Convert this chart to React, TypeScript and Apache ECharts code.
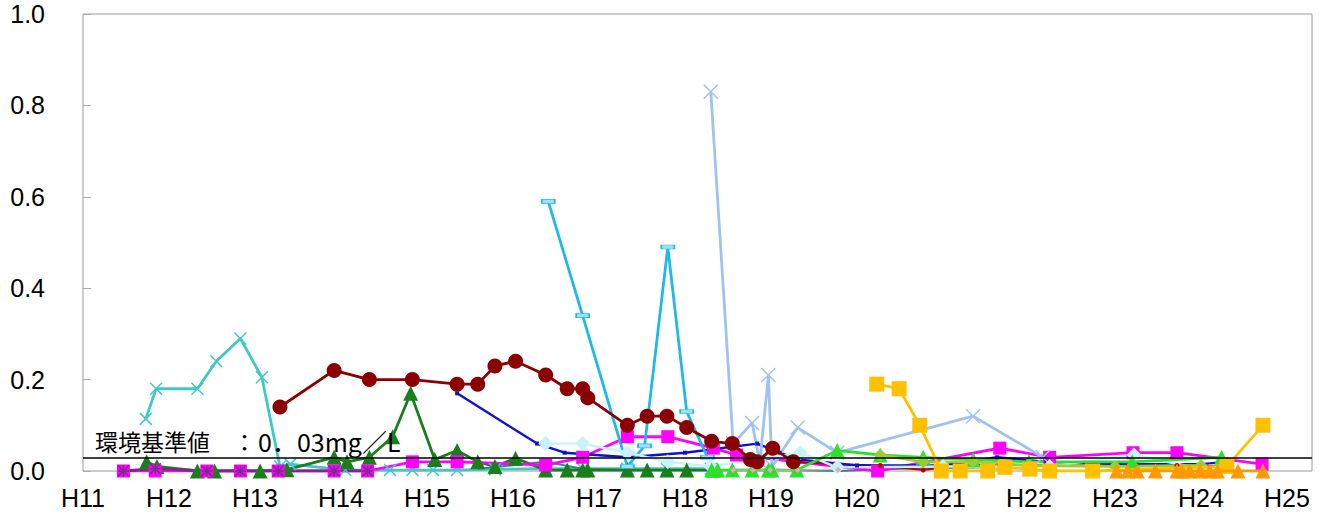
import React, { useEffect, useRef } from "react";
import * as echarts from "echarts";

// x values are fiscal years (Heisei), y values are mg/L
const xTickLabels = ["H11","H12","H13","H14","H15","H16","H17","H18","H19","H20","H21","H22","H23","H24","H25"];
const yTicks = [0, 0.2, 0.4, 0.6, 0.8, 1.0];
const standardValue = 0.03;
const standardLabelA = "環境基準値　：";
const standardLabelB = "0．03mg／L";

const tealX = [[11.73,0.114],[11.85,0.18],[12.33,0.18],[12.55,0.24],[12.83,0.29],[13.08,0.205],[13.29,0.01],[13.41,0.015],[14.05,0.002],[14.57,0.002],[14.83,0.002],[15.07,0.002],[15.35,0.002],[15.79,0.004],[16.38,0.005],[16.81,0.005],[17.33,0.005],[17.79,0.005],[18.3,0.005]];
const darkRed = [[13.29,0.14],[13.92,0.22],[14.33,0.2],[14.83,0.2],[15.35,0.19],[15.59,0.19],[15.79,0.23],[16.03,0.24],[16.38,0.21],[16.63,0.18],[16.81,0.18],[16.87,0.16],[17.33,0.1],[17.56,0.12],[17.79,0.12],[18.02,0.095],[18.31,0.065],[18.55,0.06],[18.76,0.025],[18.84,0.02],[19.02,0.05],[19.26,0.02]];
const redSmall = [[19.26,0.02],[19.74,0.015],[20.27,0.012],[20.77,0.002],[21.2,0.012],[21.66,0.014],[22.24,0.012],[22.74,0.012],[23.22,0.015],[23.72,0.012],[24.24,0.01]];
const darkGreen = [[11.74,0.02],[11.86,0.01],[12.33,0.0],[12.53,0.0],[13.06,0.0],[13.37,0.003],[13.92,0.03],[14.07,0.02],[14.33,0.03],[14.6,0.075],[14.81,0.17],[15.09,0.025],[15.35,0.045],[15.59,0.02],[15.79,0.01],[16.03,0.028],[16.38,0.002],[16.63,0.002],[16.81,0.002],[16.87,0.002],[17.33,0.002],[17.56,0.002],[17.79,0.002],[18.02,0.002],[18.33,0.002]];
const magenta = [[11.47,0.0],[11.84,0.0],[12.44,0.0],[12.83,0.0],[13.27,0.0],[13.92,0.0],[14.31,0.0],[14.83,0.02],[15.35,0.02],[16.38,0.013],[16.81,0.03],[17.33,0.075],[17.8,0.075],[18.33,0.05],[18.6,0.035],[20.24,0.0],[21.66,0.05],[22.24,0.03],[23.21,0.04],[23.72,0.04],[24.71,0.015]];
const purple = [[11.47,0.0],[11.84,0.005],[12.44,0.0],[12.83,0.0],[13.27,0.0],[13.92,0.0],[14.31,0.0]];
const blue = [[15.35,0.17],[16.28,0.06],[16.6,0.04],[17.33,0.03],[18.0,0.04],[18.84,0.06],[19.1,0.04],[19.34,0.025],[20.0,0.012],[21.0,0.012],[21.63,0.03],[22.2,0.02],[23.0,0.015],[24.0,0.015],[24.3,0.02]];
const cyanDash = [[16.41,0.59],[16.81,0.34],[17.33,0.01],[17.53,0.055],[17.8,0.49],[18.02,0.13],[18.26,0.03]];
const lightBlueX = [[18.3,0.83],[18.56,0.06],[18.78,0.105],[18.87,0.02],[18.97,0.21],[19.01,0.01],[19.31,0.095],[19.77,0.04],[21.35,0.12],[22.16,0.03]];
const lightCyan = [[16.38,0.06],[16.81,0.06],[17.33,0.04],[17.8,0.02],[18.3,0.01],[19.34,0.04],[19.77,0.008],[21.0,0.01],[22.24,0.01],[23.22,0.035],[24.0,0.005]];
const darkTeal = [[15.59,0.005],[16.38,0.02],[16.81,0.005],[17.33,0.002],[18.3,0.002],[19.0,0.003],[19.78,0.0],[20.5,0.005],[21.5,0.008]];
const brightGreen = [[18.31,0.002],[18.38,0.002],[18.55,0.002],[18.78,0.002],[18.97,0.002],[19.01,0.002],[19.3,0.002],[19.77,0.045],[20.27,0.035],[20.77,0.03],[21.35,0.025],[22.0,0.02],[23.2,0.02],[24.24,0.03]];
const pink = [[18.56,0.002],[18.79,0.002],[18.99,0.002],[19.31,0.002],[19.78,0.003]];
const yellowGreen = [[20.27,0.035],[20.77,0.02],[21.35,0.02],[22.0,0.012],[23.0,0.01],[24.0,0.012]];
const gold = [[20.23,0.19],[20.49,0.18],[20.73,0.1],[20.98,0.0],[21.2,0.0],[21.52,0.0],[21.72,0.008],[22.01,0.004],[22.24,0.0],[22.74,0.0],[24.3,0.01],[24.72,0.1]];
const orange = [[23.02,0.0],[23.15,0.0],[23.26,0.0],[23.47,0.0],[23.72,0.0],[23.78,0.0],[23.87,0.0],[23.99,0.0],[24.1,0.0],[24.19,0.0],[24.43,0.0],[24.72,0.0]];

const X_PATH = "path://M0,0L10,10M10,0L0,10";
const STAR_PATH = "path://M0,0L10,10M10,0L0,10M5,0L5,10M0,5L10,5";

function line(name: string, data: number[][], color: string, opts: any = {}) {
  return {
    name,
    type: "line",
    data,
    symbol: opts.symbol ?? "circle",
    symbolSize: opts.size ?? 10,
    lineStyle: { color, width: opts.width ?? 2.8 },
    itemStyle: opts.itemStyle ?? { color },
    z: opts.z ?? 2,
  };
}

export default function App() {
  const ref = useRef<HTMLDivElement>(null);
  useEffect(() => {
    if (!ref.current) return;
    const chart = echarts.init(ref.current, null, { renderer: "svg" });
    const xMax = 11 + 1229 / 86;
    const labelFont = "Liberation Sans, Arial, sans-serif";
    chart.setOption({
      animation: false,
      backgroundColor: "#ffffff",
      grid: { left: 83, right: 7, top: 14, bottom: 51, show: true, borderColor: "#9a9a9a", borderWidth: 1 },
      xAxis: {
        type: "value",
        min: 11,
        max: xMax,
        interval: 1,
        axisLine: { show: false },
        axisTick: { show: false },
        splitLine: { show: false },
        axisLabel: {
          fontSize: 25,
          color: "#000",
          fontFamily: labelFont,
          margin: 14,
          formatter: (v: number) => {
            const i = Math.round(v - 11);
            return Math.abs(v - Math.round(v)) < 1e-6 && i >= 0 && i < xTickLabels.length ? xTickLabels[i] : "";
          },
        },
      },
      yAxis: {
        type: "value",
        min: yTicks[0],
        max: yTicks[yTicks.length - 1],
        interval: 0.2,
        axisLine: { show: false },
        axisTick: { show: true, inside: true, length: 8, lineStyle: { color: "#aaa" } },
        splitLine: { show: false },
        axisLabel: {
          fontSize: 25,
          color: "#000",
          fontFamily: labelFont,
          margin: 38,
          formatter: (v: number) => v.toFixed(1),
        },
      },
      graphic: [
        {
          type: "text",
          left: 95,
          top: 429,
          style: { text: standardLabelA, fontSize: 23, fill: "#000", fontFamily: "Noto Sans CJK JP, sans-serif" },
          z: 100,
        },
        {
          type: "text",
          left: 258,
          top: 428,
          style: { text: standardLabelB, fontSize: 25, fill: "#000", fontFamily: "Noto Sans CJK JP, sans-serif" },
          z: 100,
        },
      ],
      series: [
        {
          name: "standard",
          type: "line",
          data: [],
          markLine: {
            silent: true,
            symbol: "none",
            label: { show: false },
            lineStyle: { color: "#000", width: 1.5, type: "solid" },
            data: [{ yAxis: standardValue }],
          },
        },
        line("tealX", tealX, "#40C8C8", { symbol: X_PATH, size: 12, itemStyle: { color: "#40C8C8", borderColor: "#40C8C8", borderWidth: 1.5 } }),
        line("darkTeal", darkTeal, "#2A8A80", { symbol: "none", width: 2 }),
        line("darkGreen", darkGreen, "#1A7F1A", { symbol: "triangle", size: 15 }),
        line("magenta", magenta, "#FF00FF", { symbol: "rect", size: 13 }),
        line("purple", purple, "#7A2A8A", { symbol: STAR_PATH, size: 11, itemStyle: { color: "#7A2A8A", borderColor: "#7A2A8A", borderWidth: 1.5 } }),
        line("darkRed", darkRed, "#8B0000", { symbol: "circle", size: 15, z: 3 }),
        line("redSmall", redSmall, "#C00000", { symbol: "circle", size: 5, width: 2 }),
        line("blue", blue, "#1010D0", { symbol: "rect", size: 4, width: 2.4 }),
        line("cyanDash", cyanDash, "#1EB9E8", { symbol: "rect", size: [13, 4], itemStyle: { color: "#9EE0F5", borderColor: "#1EB9E8", borderWidth: 1 } }),
        line("lightBlueX", lightBlueX, "#9EC3EE", { symbol: X_PATH, size: 14, itemStyle: { color: "#9EC3EE", borderColor: "#9EC3EE", borderWidth: 1.5 } }),
        line("lightCyan", lightCyan, "#C6F2F8", { symbol: "diamond", size: 15, width: 2.4 }),
        line("brightGreen", brightGreen, "#2EE02E", { symbol: "triangle", size: 15 }),
        line("pink", pink, "#F0A0C0", { symbol: "diamond", size: 6, width: 1 }),
        line("yellowGreen", yellowGreen, "#9ACD32", { symbol: "diamond", size: 13 }),
        line("gold", gold, "#FFC000", { symbol: "rect", size: 15, z: 4 }),
        line("orange", orange, "#FF9900", { symbol: "triangle", size: 15, z: 5 }),
      ],
    });
    return () => chart.dispose();
  }, []);
  return <div ref={ref} style={{ position: "fixed", left: 0, top: 0, width: 1319, height: 522 }} />;
}
